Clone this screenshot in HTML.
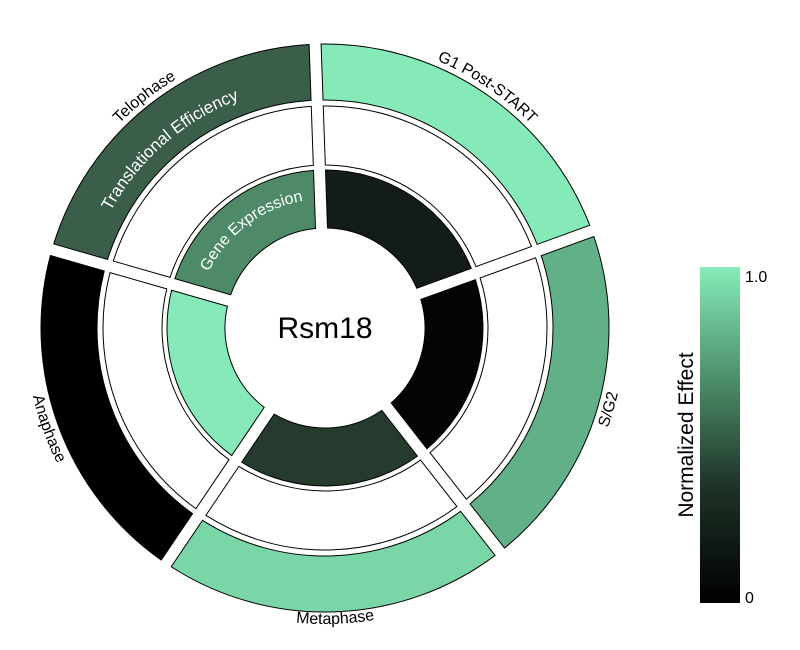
<!DOCTYPE html>
<html><head><meta charset="utf-8">
<style>
html,body{margin:0;padding:0;background:#fff;width:800px;height:650px;overflow:hidden}
svg{display:block}
text{font-family:"Liberation Sans",sans-serif}
</style></head>
<body>
<svg id="s" width="800" height="650" viewBox="0 0 800 650" xmlns="http://www.w3.org/2000/svg">
<defs>
<linearGradient id="cb" x1="0" y1="1" x2="0" y2="0">
<stop offset="0" stop-color="#000"/>
<stop offset="0.35" stop-color="#1f3328"/>
<stop offset="0.65" stop-color="#4a8a66"/>
<stop offset="1" stop-color="#86ecb8"/>
</linearGradient>
</defs>
<g id="g"></g>
<text x="325" y="338" font-size="30" text-anchor="middle" fill="#000">Rsm18</text>
<rect x="700" y="267" width="40" height="336" fill="url(#cb)"/>
<text x="745" y="282" font-size="16">1.0</text>
<text x="745" y="603" font-size="16">0</text>
<text transform="translate(693,435) rotate(-90)" font-size="21" text-anchor="middle" fill="#000">Normalized Effect</text>
</svg>
<script>
var cx=325,cy=328,NS="http://www.w3.org/2000/svg",g=document.getElementById('g');
function P(b,r){var a=b*Math.PI/180;return [cx+r*Math.sin(a),cy-r*Math.cos(a)];}
function sector(a0,a1,r0,r1,fill){
 var gp=6;
 var p0=gp/r0*180/Math.PI,p1=gp/r1*180/Math.PI;
 var A=P(a0+p1,r1),B=P(a1-p1,r1),C=P(a1-p0,r0),D=P(a0+p0,r0);
 var d="M"+A+" A"+r1+" "+r1+" 0 0 1 "+B+" L"+C+" A"+r0+" "+r0+" 0 0 0 "+D+" Z";
 var e=document.createElementNS(NS,'path');e.setAttribute('d',d);e.setAttribute('fill',fill);
 e.setAttribute('stroke','#000');e.setAttribute('stroke-width','1');g.appendChild(e);
}
var id=0;
function label(c,r,txt,cw,col,fs){
 var pid='tp'+(id++);var d;
 if(cw){var A=P(c-80,r),B=P(c+80,r);d="M"+A+" A"+r+" "+r+" 0 0 1 "+B;}
 else{var A=P(c+80,r),B=P(c-80,r);d="M"+A+" A"+r+" "+r+" 0 0 0 "+B;}
 var p=document.createElementNS(NS,'path');p.setAttribute('id',pid);p.setAttribute('d',d);p.setAttribute('fill','none');
 document.querySelector('defs').appendChild(p);
 var t=document.createElementNS(NS,'text');t.setAttribute('font-size',fs);t.setAttribute('fill',col);t.setAttribute('text-anchor','middle');
 var tp=document.createElementNS(NS,'textPath');tp.setAttribute('href','#'+pid);tp.setAttribute('startOffset','50%');tp.textContent=txt;
 t.appendChild(tp);g.appendChild(t);
}
var secs=[
 [-74,-2,'#3a5e4a','#fff','#4e8a68','Telophase'],
 [-2,70,'#86eab8','#fff','#141c17','G1 Post-START'],
 [70,142,'#62b088','#fff','#030504','S/G2'],
 [142,214,'#7ad6a6','#fff','#263a2e','Metaphase'],
 [214,286,'#000','#fff','#86eab8','Anaphase']];
secs.forEach(function(s){
 sector(s[0],s[1],228,284,s[2]);
 sector(s[0],s[1],163,222,s[3]);
 sector(s[0],s[1],100,158,s[4]);
});
label(-38,290,'Telophase',true,'#000',16);
label(34,290,'G1 Post-START',true,'#000',16);
label(106,300,'S/G2',false,'#000',16);
label(178,296,'Metaphase',false,'#000',16);
label(250,300,'Anaphase',false,'#000',16);
label(-41,244,'Translational Efficiency',true,'#fff',17);
label(-37,129,'Gene Expression',true,'#fff',16);
</script>
</body></html>
